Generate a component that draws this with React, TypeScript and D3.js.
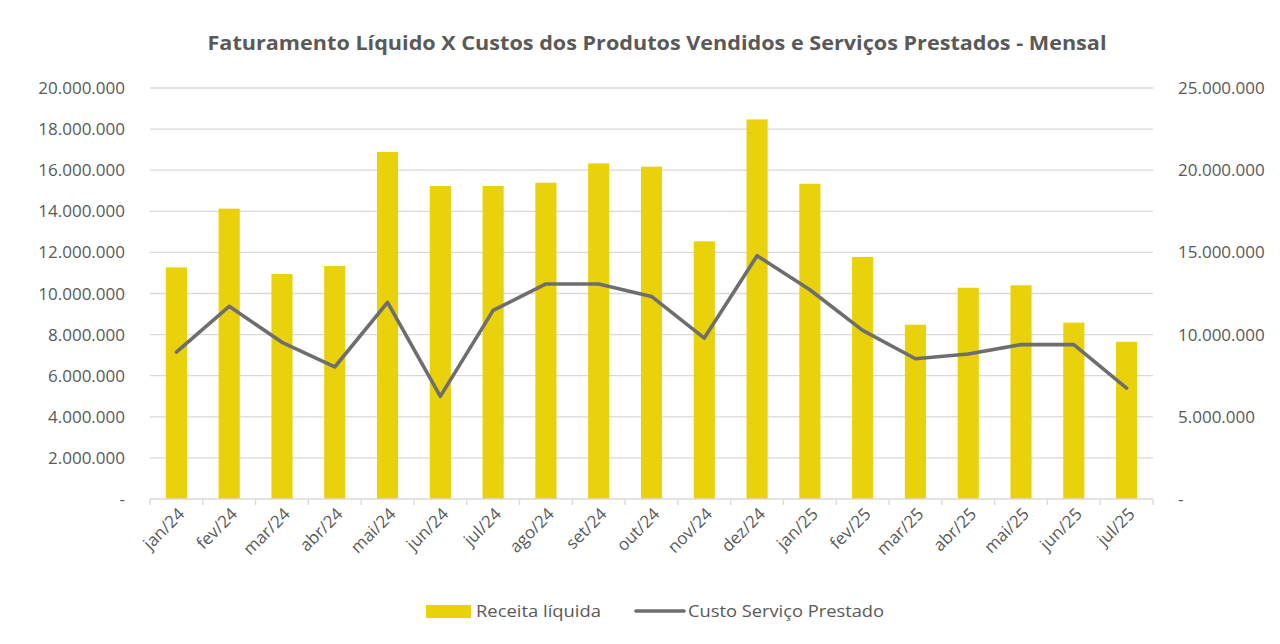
import React from "react";
import * as d3 from "d3";

const months = [
  "jan/24", "fev/24", "mar/24", "abr/24", "mai/24", "jun/24", "jul/24",
  "ago/24", "set/24", "out/24", "nov/24", "dez/24", "jan/25", "fev/25",
  "mar/25", "abr/25", "mai/25", "jun/25", "jul/25",
];

// Receita líquida (left axis)
const receita = [
  11270000, 14130000, 10950000, 11340000, 16890000, 15230000, 15230000,
  15390000, 16330000, 16170000, 12540000, 18470000, 15340000, 11780000,
  8480000, 10280000, 10400000, 8580000, 7650000,
];

// Custo Serviço Prestado (right axis)
const custo = [
  8940000, 11720000, 9530000, 8030000, 11960000, 6240000, 11470000,
  13080000, 13080000, 12320000, 9790000, 14800000, 12730000, 10260000,
  8530000, 8820000, 9390000, 9390000, 6750000,
];

const leftTicks = [0, 2e6, 4e6, 6e6, 8e6, 10e6, 12e6, 14e6, 16e6, 18e6, 20e6];
const rightTicks = [0, 5e6, 10e6, 15e6, 20e6, 25e6];

const title = "Faturamento Líquido X Custos dos Produtos Vendidos e Serviços Prestados - Mensal";

const fmt = (v: number) =>
  v === 0 ? "-" : d3.format(",")(v).replace(/,/g, ".");

const W = 1280;
const H = 644;
const left = 150;
const right = 1153;
const top = 88;
const bottom = 499;
const font = "'Open Sans', 'Noto Sans', sans-serif";
const textColor = "#595959";
const gridColor = "#d9d9d9";
const barColor = "#e9d10b";
const lineColor = "#6e6e6e";

export default function App() {
  const x = d3.scaleBand<string>().domain(months).range([left, right]).paddingInner(0.6).paddingOuter(0.3);
  const xc = (m: string) => (x(m) ?? 0) + x.bandwidth() / 2;
  const step = (right - left) / months.length;
  const yL = d3.scaleLinear().domain([0, 20e6]).range([bottom, top]);
  const yR = d3.scaleLinear().domain([0, 25e6]).range([bottom, top]);

  const line = d3
    .line<number>()
    .x((_, i) => xc(months[i]))
    .y((d) => yR(d));

  return (
    <svg width={W} height={H} style={{ position: "absolute", left: 0, top: 0, background: "#fff" }}>
      <rect width={W} height={H} fill="#fff" />
      <text
        x={657}
        y={50}
        textAnchor="middle"
        fontFamily={font}
        fontWeight="bold"
        fontSize={20}
        fill={textColor}
        textLength={899}
        lengthAdjust="spacingAndGlyphs"
      >
        {title}
      </text>

      {leftTicks.map((t) => (
        <g key={"g" + t}>
          {t > 0 && (
            <line x1={left} x2={right} y1={yL(t)} y2={yL(t)} stroke={gridColor} strokeWidth={1.3} />
          )}
          <text
            x={125}
            y={yL(t) + 6}
            textAnchor="end"
            fontFamily={font}
            fontSize={17}
            fill={textColor}
          >
            {fmt(t)}
          </text>
        </g>
      ))}

      {rightTicks.map((t) => (
        <text
          key={"r" + t}
          x={1178}
          y={yR(t) + 6}
          textAnchor="start"
          fontFamily={font}
          fontSize={17}
          fill={textColor}
        >
          {fmt(t)}
        </text>
      ))}

      {receita.map((v, i) => (
        <rect
          key={"b" + i}
          x={x(months[i])}
          y={yL(v)}
          width={x.bandwidth()}
          height={bottom - yL(v)}
          fill={barColor}
        />
      ))}

      <line x1={left} x2={right} y1={bottom} y2={bottom} stroke={gridColor} strokeWidth={1.3} />
      {d3.range(months.length + 1).map((i) => (
        <line
          key={"t" + i}
          x1={left + i * step}
          x2={left + i * step}
          y1={bottom}
          y2={bottom + 6}
          stroke={gridColor}
          strokeWidth={1.3}
        />
      ))}

      <path d={line(custo) ?? ""} fill="none" stroke={lineColor} strokeWidth={3.6} strokeLinejoin="round" strokeLinecap="round" />

      {months.map((m) => (
        <text
          key={m}
          transform={`translate(${xc(m) + 6},${bottom + 13}) rotate(-45)`}
          textAnchor="end"
          dominantBaseline="middle"
          fontFamily={font}
          fontSize={17}
          fill={textColor}
        >
          {m}
        </text>
      ))}

      <rect x={426} y={605} width={45} height={13} fill={barColor} />
      <text x={476} y={617} fontFamily={font} fontSize={17} fill={textColor} textLength={125} lengthAdjust="spacingAndGlyphs">
        Receita líquida
      </text>
      <line x1={636} x2={684} y1={611} y2={611} stroke={lineColor} strokeWidth={3.6} strokeLinecap="round" />
      <text x={688} y={617} fontFamily={font} fontSize={17} fill={textColor} textLength={196} lengthAdjust="spacingAndGlyphs">
        Custo Serviço Prestado
      </text>
    </svg>
  );
}
